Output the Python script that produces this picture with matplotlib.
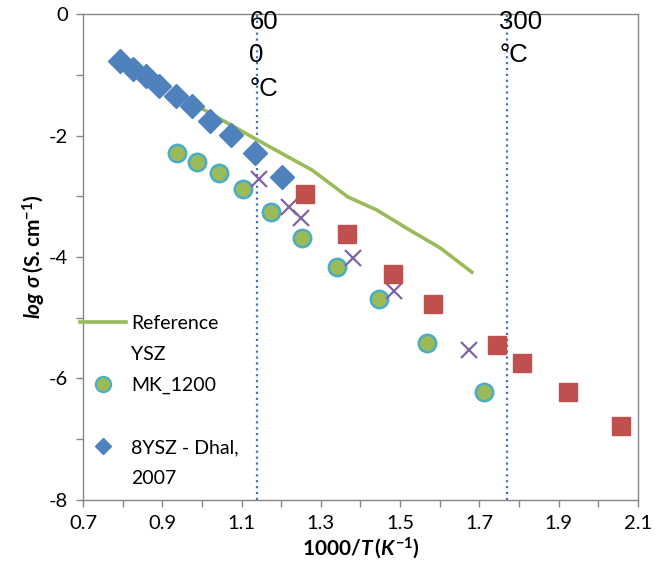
import numpy as np
import matplotlib
matplotlib.use('Agg')
import matplotlib.pyplot as plt
from matplotlib.lines import Line2D

plt.rcParams['font.family'] = ['Lato', 'DejaVu Sans']
plt.rcParams['mathtext.fontset'] = 'custom'
plt.rcParams['mathtext.rm'] = 'Lato:bold'
plt.rcParams['mathtext.bf'] = 'Lato:bold'
plt.rcParams['mathtext.it'] = 'Lato:italic:bold'

# 8YSZ - Dhal, 2007 (blue diamonds)
dhal_x = [0.793, 0.826, 0.859, 0.892, 0.935, 0.975, 1.020, 1.073, 1.134, 1.202]
dhal_y = [-0.77, -0.91, -1.02, -1.19, -1.35, -1.51, -1.76, -1.99, -2.29, -2.68]

# MK_1200 (green circles)
mk_x = [0.937, 0.988, 1.043, 1.104, 1.174, 1.252, 1.341, 1.447, 1.568, 1.712]
mk_y = [-2.29, -2.44, -2.62, -2.88, -3.26, -3.69, -4.16, -4.69, -5.41, -6.22]

# purple crosses
cross_x = [1.144, 1.220, 1.250, 1.381, 1.485, 1.674]
cross_y = [-2.72, -3.18, -3.36, -4.02, -4.56, -5.53]

# red squares
sq_x = [1.260, 1.366, 1.482, 1.583, 1.744, 1.807, 1.924, 2.057]
sq_y = [-2.96, -3.62, -4.28, -4.77, -5.45, -5.74, -6.22, -6.78]

# Reference YSZ (green line)
ref_x = [0.952, 1.139, 1.278, 1.368, 1.442, 1.525, 1.601, 1.681]
ref_y = [-1.38, -2.07, -2.57, -3.01, -3.23, -3.56, -3.85, -4.25]

# temperature markers
temp_x = [1.14, 1.77]
temp_labels = ['60\n0\n°C', '300\n°C']

fig = plt.figure(figsize=(6.55, 5.72), dpi=100)
ax = fig.add_axes([0.1267, 0.1259, 0.8473, 0.8496])

for tx in temp_x:
    ax.axvline(tx, color='#4472C4', linestyle=':', linewidth=1.6, zorder=1)

ax.plot(ref_x, ref_y, color='#9BBB59', linewidth=2.6, zorder=2)
ax.plot(mk_x, mk_y, linestyle='none', marker='o', markersize=12.5,
        markerfacecolor='#9BBB59', markeredgecolor='#4BACC6', markeredgewidth=1.8, zorder=3)
ax.plot(dhal_x, dhal_y, linestyle='none', marker='D', markersize=12.5,
        color='#4F81BD', zorder=3)
ax.plot(cross_x, cross_y, linestyle='none', marker='x', markersize=12,
        markeredgewidth=1.6, color='#8064A2', zorder=3)
ax.plot(sq_x, sq_y, linestyle='none', marker='s', markersize=13,
        color='#C0504D', zorder=3)

for tx, lab in zip(temp_x, temp_labels):
    ax.text(tx - 0.02, 0.07, lab, family='Liberation Sans', fontsize=18.5,
            va='top', ha='left', linespacing=1.5, clip_on=False, zorder=4)

ax.set_xlim(0.7, 2.1)
ax.set_ylim(-8, 0)
ax.set_xticks(np.arange(0.7, 2.11, 0.1))
ax.set_xticklabels(['%.1f' % v if i % 2 == 0 else '' for i, v in enumerate(np.arange(0.7, 2.11, 0.1))])
ax.set_yticks(np.arange(-8, 0.1, 1))
ax.set_yticklabels(['%d' % v if v % 2 == 0 else '' for v in np.arange(-8, 0.1, 1)])
ax.tick_params(direction='out', length=5, width=1, color='#868686', labelsize=14.5, pad=6)

for s in ax.spines.values():
    s.set_color('#868686')
    s.set_linewidth(1)

ax.set_xlabel(r'$1000/T\,(K^{-1})$', fontsize=15, labelpad=2)
ax.set_ylabel(r'$log\ \sigma\,\mathrm{(S{.}cm^{-1})}$', fontsize=15, labelpad=0)

# legend (Excel style, two-line labels)
blank = Line2D([], [], linestyle='none', marker='none')
handles = [
    Line2D([], [], color='#9BBB59', linewidth=2.6), blank,
    Line2D([], [], linestyle='none', marker='o', markersize=11,
           markerfacecolor='#9BBB59', markeredgecolor='#4BACC6', markeredgewidth=1.5), blank,
    Line2D([], [], linestyle='none', marker='D', markersize=8, color='#4F81BD'), blank,
]
labels = ['Reference', 'YSZ', 'MK_1200', ' ', '8YSZ - Dhal,', '2007']
ax.legend(handles, labels, loc='upper left', bbox_to_anchor=(-0.006, 0.381),
          frameon=False, fontsize=14, handlelength=2.4, handletextpad=0.25,
          labelspacing=0.72, borderpad=0, borderaxespad=0)

fig.savefig('out.png', dpi=100)
